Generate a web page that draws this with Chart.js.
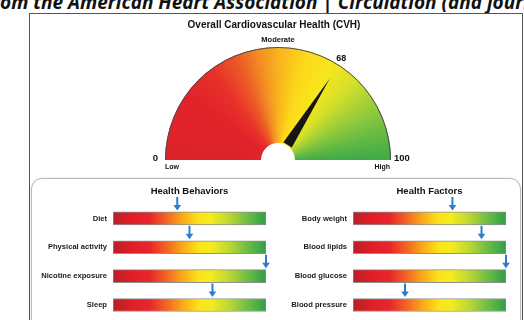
<!DOCTYPE html>
<html><head><meta charset="utf-8">
<script src="https://cdn.jsdelivr.net/npm/chart.js@4.4.1/dist/chart.umd.min.js"></script>
<style>
html,body{margin:0;padding:0;width:524px;height:320px;overflow:hidden;background:#fff;}
body{position:relative;}
#cap{position:absolute;left:-18px;top:-7px;font:italic 700 19px "Open Sans";line-height:19px;white-space:nowrap;color:#111;}
#outer{position:absolute;left:29px;top:13px;width:494px;height:340px;border:1px solid #555;box-sizing:border-box;background:#fff;}
#inner{position:absolute;left:31px;top:178px;width:490px;height:200px;border:1.5px solid #b9b9b9;border-radius:11px;box-sizing:border-box;box-shadow:0 0 2px rgba(0,0,0,0.15);}
canvas{position:absolute;}
</style></head>
<body>
<div id="cap">From the American Heart Association | Circulation (and journals)</div>
<div id="outer"></div>
<div id="inner"></div>
<canvas id="gauge" width="494" height="160" style="left:29px;top:14px;width:494px;height:160px"></canvas>
<canvas id="beh" width="240" height="150" style="left:33px;top:180px;width:240px;height:150px"></canvas>
<canvas id="fac" width="240" height="150" style="left:273px;top:180px;width:240px;height:150px"></canvas>
<script>
// ---- data ----
const gaugeTitle = 'Overall Cardiovascular Health (CVH)';
const gaugeValue = [68];
const gaugeRange = [0, 100];
const gaugeBandLabels = ['Low', 'Moderate', 'High'];

const behaviorTitle = 'Health Behaviors';
const behaviorLabels = ['Diet', 'Physical activity', 'Nicotine exposure', 'Sleep'];
const behaviorScores = [42, 50, 100, 65];

const factorTitle = 'Health Factors';
const factorLabels = ['Body weight', 'Blood lipids', 'Blood glucose', 'Blood pressure'];
const factorScores = [65, 84, 100, 34];

const scaleTrack = [100, 100, 100, 100];

const FONT = '"Liberation Sans", Arial, sans-serif';

// ---- gauge ----
function gaugeFill(c) {
  const ca = c.chart.chartArea;
  if (!ca) return '#e3262b';
  const cx = (ca.left + ca.right) / 2, cy = ca.bottom;
  const g = c.chart.ctx.createConicGradient(Math.PI, cx, cy);
  const stops = [
    [0.00, '#dc2329'], [0.10, '#e2232a'], [0.15, '#e6322a'], [0.19, '#ec5a27'],
    [0.22, '#f38a24'], [0.25, '#f8b31d'], [0.29, '#fcd81a'], [0.33, '#f8e61c'],
    [0.37, '#d6e02a'], [0.41, '#a2cf38'], [0.45, '#6fbe42'], [0.50, '#3aa948'],
    [0.51, '#3aa948'], [1.00, '#dc2329']
  ];
  stops.forEach(s => g.addColorStop(s[0], s[1]));
  return g;
}

const gaugePlugin = {
  id: 'gaugeDecor',
  afterDatasetsDraw(chart) {
    const arc = chart.getDatasetMeta(0).data[0];
    const {x, y, startAngle, endAngle, innerRadius, outerRadius} =
      arc.getProps(['x', 'y', 'startAngle', 'endAngle', 'innerRadius', 'outerRadius'], true);
    const ctx = chart.ctx;
    ctx.save();
    // outline
    ctx.strokeStyle = '#4a4a4a';
    ctx.lineWidth = 1;
    ctx.beginPath();
    ctx.arc(x, y, outerRadius - 0.5, startAngle, endAngle);
    ctx.stroke();
    // needle
    const v = gaugeValue[0];
    const frac = (v - gaugeRange[0]) / (gaugeRange[1] - gaugeRange[0]);
    const a = startAngle + (endAngle - startAngle) * frac;
    const tipR = outerRadius * 0.855, baseR = innerRadius + 1, hw = 5;
    const ux = Math.cos(a), uy = Math.sin(a), px = -uy, py = ux;
    ctx.fillStyle = '#161616';
    ctx.beginPath();
    ctx.moveTo(x + ux * tipR, y + uy * tipR);
    ctx.lineTo(x + ux * baseR + px * hw, y + uy * baseR + py * hw);
    ctx.lineTo(x + ux * baseR - px * hw, y + uy * baseR - py * hw);
    ctx.closePath();
    ctx.fill();
    // texts
    ctx.fillStyle = '#111';
    ctx.textBaseline = 'middle';
    ctx.textAlign = 'center';
    ctx.font = 'bold 10px ' + FONT;
    ctx.fillText(gaugeTitle, chart.width / 2 - 2, 11);
    ctx.font = 'bold 7.5px ' + FONT;
    ctx.fillText(gaugeBandLabels[1], x, y - outerRadius - 7);
    ctx.font = 'bold 9px ' + FONT;
    const lr = outerRadius + 7;
    ctx.fillText(String(v), x + Math.cos(a) * lr - 1, y + Math.sin(a) * lr);
    ctx.font = 'bold 9.5px ' + FONT;
    ctx.textAlign = 'right';
    ctx.fillText(String(gaugeRange[0]), x - outerRadius - 7, y - 2);
    ctx.textAlign = 'left';
    ctx.fillText(String(gaugeRange[1]), x + outerRadius + 3, y - 2);
    ctx.font = 'bold 7px ' + FONT;
    ctx.fillText(gaugeBandLabels[0], x - outerRadius, y + 7);
    ctx.textAlign = 'right';
    ctx.fillText(gaugeBandLabels[2], x + outerRadius - 1, y + 7);
    ctx.restore();
  }
};

new Chart(document.getElementById('gauge'), {
  type: 'doughnut',
  data: {
    labels: ['CVH'],
    datasets: [{ data: [gaugeRange[1] - gaugeRange[0]], backgroundColor: gaugeFill, borderWidth: 0 }]
  },
  options: {
    responsive: false, animation: false, events: [],
    rotation: -90, circumference: 180, cutout: '15%',
    layout: { padding: { left: 136, right: 132, top: 32, bottom: 13 } },
    plugins: { legend: { display: false }, tooltip: { enabled: false } }
  },
  plugins: [gaugePlugin]
});

// ---- bars ----
function barFill(c) {
  const ca = c.chart.chartArea;
  if (!ca) return '#e3262b';
  const g = c.chart.ctx.createLinearGradient(ca.left, 0, ca.right, 0);
  const stops = [
    [0.00, '#b81f27'], [0.12, '#e01e26'], [0.24, '#e8262a'], [0.36, '#f36b22'],
    [0.46, '#f9ad1a'], [0.56, '#fde21a'], [0.64, '#f5ec1e'], [0.76, '#bcd733'],
    [0.88, '#6cbd45'], [1.00, '#2f9e48']
  ];
  stops.forEach(s => g.addColorStop(s[0], s[1]));
  return g;
}

const arrowPlugin = {
  id: 'arrows',
  afterDatasetsDraw(chart, args, opts) {
    const ctx = chart.ctx, xs = chart.scales.x;
    const bars = chart.getDatasetMeta(0).data;
    ctx.save();
    ctx.fillStyle = '#2a7dd0';
    ctx.strokeStyle = '#2a7dd0';
    opts.scores.forEach((s, i) => {
      const b = bars[i];
      const top = b.y - b.height / 2;
      const ax = xs.getPixelForValue(s);
      ctx.lineWidth = 2;
      ctx.beginPath();
      ctx.moveTo(ax, top - 15);
      ctx.lineTo(ax, top - 6);
      ctx.stroke();
      ctx.beginPath();
      ctx.moveTo(ax - 3.8, top - 7);
      ctx.lineTo(ax + 3.8, top - 7);
      ctx.lineTo(ax, top - 1.5);
      ctx.closePath();
      ctx.fill();
    });
    ctx.fillStyle = '#111';
    ctx.font = 'bold 9.5px ' + FONT;
    ctx.textAlign = 'center';
    ctx.textBaseline = 'middle';
    const ca = chart.chartArea;
    ctx.fillText(opts.title, (ca.left + ca.right) / 2, ca.top - 13);
    ctx.restore();
  }
};

function makeBars(id, labels, scores, title) {
  return new Chart(document.getElementById(id), {
    type: 'bar',
    data: {
      labels: labels,
      datasets: [{
        data: scaleTrack, backgroundColor: barFill, borderColor: 'rgba(125,125,125,0.85)',
        borderWidth: 1, borderSkipped: false, barThickness: 13
      }]
    },
    options: {
      indexAxis: 'y', responsive: false, animation: false, events: [],
      layout: { padding: { left: 0, right: 7, top: 24, bottom: 3 } },
      scales: {
        x: { display: false, min: gaugeRange[0], max: gaugeRange[1] },
        y: {
          grid: { display: false, drawTicks: false }, border: { display: false },
          ticks: { color: '#1a1a1a', padding: 6, font: { family: FONT, size: 7.6, weight: 'bold' } },
          afterFit(scale) { scale.width = 80; }
        }
      },
      plugins: { legend: { display: false }, tooltip: { enabled: false },
        arrows: { scores: scores, title: title } }
    },
    plugins: [arrowPlugin]
  });
}
makeBars('beh', behaviorLabels, behaviorScores, behaviorTitle);
makeBars('fac', factorLabels, factorScores, factorTitle);
</script>
</body></html>
